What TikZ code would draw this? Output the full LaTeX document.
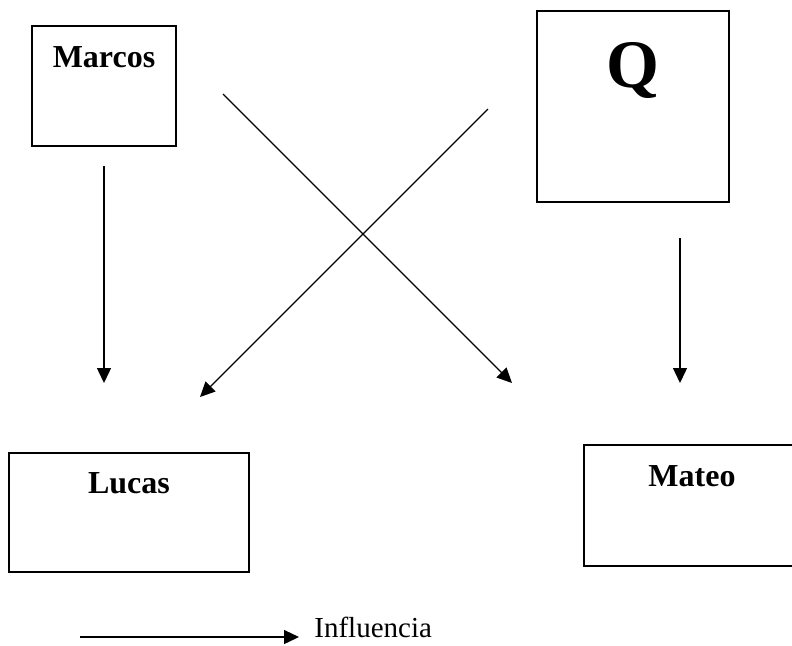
\documentclass[tikz,border=0pt]{standalone}
\usepackage{fontspec}
\setmainfont{Liberation Serif}
\usetikzlibrary{positioning}
\usetikzlibrary{arrows.meta}

\tikzset{
  box/.style={draw, line width=0.8pt, inner sep=0pt},
  lbl/.style={anchor=base, font=\fontsize{16}{19}\selectfont\bfseries},
  infl/.style={-{Triangle[length=7.5pt,width=7pt]}, line width=0.65pt}
}

\begin{document}
\begin{tikzpicture}[x=0.5pt, y=-0.5pt]
\useasboundingbox (0,0) rectangle (792,645);
\clip (0,0) rectangle (792,645);

% Nodes
% boxes
\node[box, minimum width=72pt, minimum height=60pt](marcos) at (104,86) {};
\node[box, minimum width=96pt, minimum height=95.5pt](q) at (633,106.5) {};
\node[box, minimum width=120pt, minimum height=59.5pt](lucas) at (129,512.5) {};
\node[box, minimum width=108pt, minimum height=60.5pt](mateo) at (692,505.5) {};

% names
\node[lbl](marcostxt) at (104,67) {Marcos};
\node[lbl, font=\fontsize{34}{40}\selectfont\bfseries](qtxt) at (633,87) {Q};
\node[lbl](lucastxt) at (129,493) {Lucas};
\node[lbl](mateotxt) at (692,486) {Mateo};

% arrow ends
\coordinate (m1) at (104,166);
\coordinate (m2) at (104,383);
\coordinate (q1) at (680,238);
\coordinate (q2) at (680,383);
\coordinate (x1) at (223,94);
\coordinate (x2) at (512,383);
\coordinate (y1) at (488,109);
\coordinate (y2) at (200,397);
\coordinate (leg1) at (80,637);
\coordinate (leg2) at (299,637);

\draw[infl] (m1) -- (m2);
\draw[infl] (q1) -- (q2);
\draw[infl] (x1) -- (x2);
\draw[infl] (y1) -- (y2);

% legend
\draw[infl] (leg1) -- (leg2);
\node[inner sep=0pt, font=\fontsize{14.5}{17}\selectfont, right = 7.5pt of leg2, anchor=base west](legtxt) {Influencia};

\end{tikzpicture}
\end{document}
